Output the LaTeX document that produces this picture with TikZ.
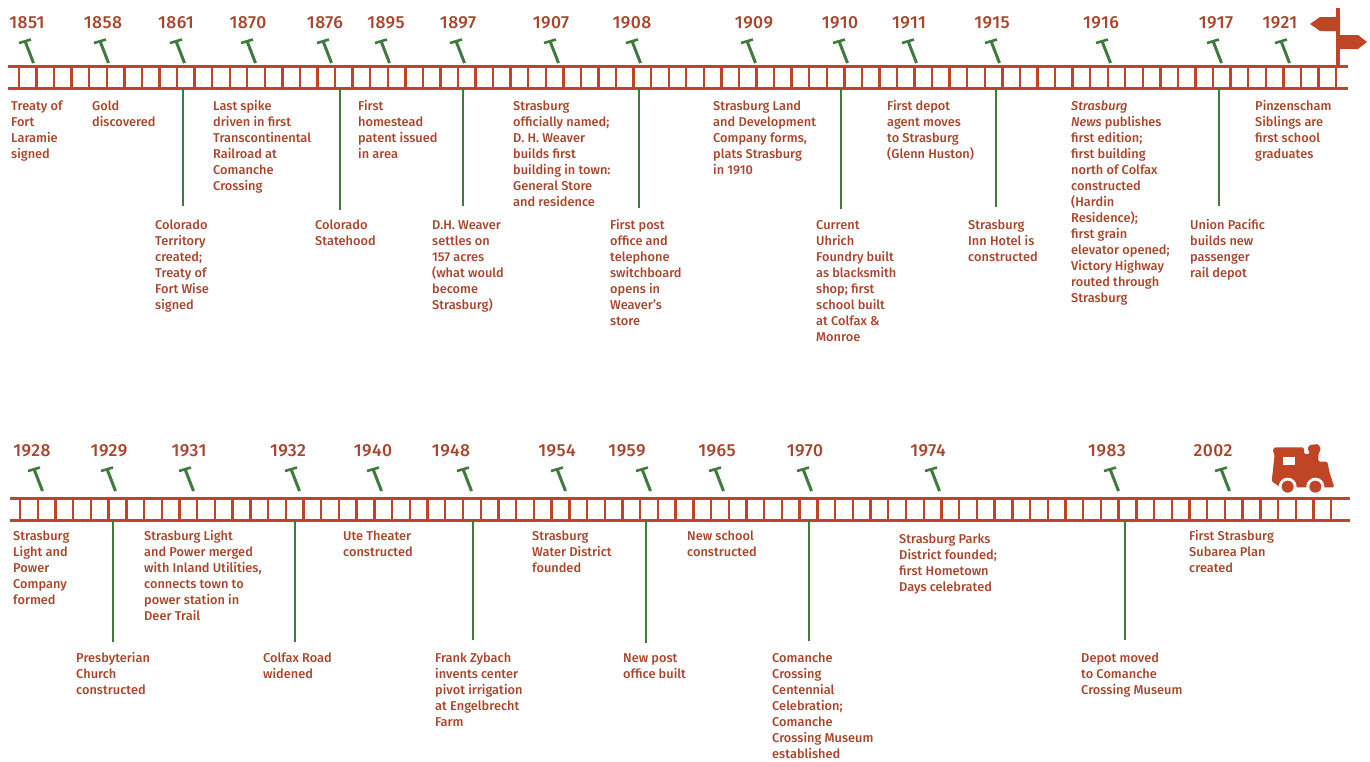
\documentclass[tikz,border=0pt]{standalone}
\usepackage{fontspec}
\setmainfont{Fira Sans Medium}[ItalicFont={Fira Sans Medium Italic}]
\newfontfamily\yearfont{Fira Sans Medium}[LetterSpace=2.5]
\definecolor{rail}{HTML}{BF4526}
\definecolor{txt}{HTML}{A8452C}
\definecolor{stem}{HTML}{3F7A3E}
\tikzset{
  railline/.style={draw=rail,line width=3pt},
  tie/.style={draw=rail,line width=2.4pt},
  nailshaft/.style={draw=stem,line width=3pt},
  nailhead/.style={draw=stem,line width=2.6pt},
  stemline/.style={draw=stem,line width=2pt},
  yearlabel/.style={text=txt,font=\yearfont\fontsize{17.5}{18}\selectfont,inner sep=0pt,anchor=center},
  event/.style={text=txt,font=\fontsize{12.8}{16}\selectfont,inner sep=0pt,anchor=north west,align=left},
}
\newcommand{\yr}[5]{% id, year, year x, head x, row (year y, head y, tip y)
  \node[yearlabel] (y#1) at (#3,#5+0.5) {#2};
  \coordinate (nh#1) at (#4,#5+19);
  \coordinate (nt#1) at (#4+8.5,#5+41);
  \draw[nailshaft] (nh#1) -- (nt#1);
  \draw[nailhead] ($(nh#1)+(-6,2)$) -- ($(nh#1)+(6,-1.5)$);
}
\newcommand{\ev}[4]{% id, x, line-centre y, text
  \node[event] (e#1) at (#2,#3-4.5) {\rule{0pt}{10pt}#4};
}
\newcommand{\st}[4]{% id, x, y1, y2
  \coordinate (sa#1) at (#2,#3);
  \coordinate (sb#1) at (#2,#4);
  \draw[stemline] (sa#1) -- (sb#1);
}
\usetikzlibrary{calc}
\begin{document}
\begin{tikzpicture}[x=1pt,y=-1pt]
\useasboundingbox (0,0) rectangle (1370,761);
% rails
\coordinate (ra) at (8,66); \coordinate (rb) at (1348,66);
\coordinate (rc) at (8,88); \coordinate (rd) at (1348,88);
\foreach \i in {0,...,75} \draw[tie] ({19+\i*17.56},66) -- ({19+\i*17.56},88);
\draw[railline] (ra) -- (rb);
\draw[railline] (rc) -- (rd);
\coordinate (rA) at (10,498); \coordinate (rB) at (1350,498);
\coordinate (rC) at (10,520); \coordinate (rD) at (1350,520);
\foreach \i in {0,...,74} \draw[tie] ({20+\i*17.72},498) -- ({20+\i*17.72},520);
\draw[railline] (rA) -- (rB);
\draw[railline] (rC) -- (rD);
% stems
\st{a}{183}{88}{206}\st{b}{340}{88}{210}\st{c}{463}{88}{206}\st{d}{639}{88}{208}
\st{e}{841}{88}{209}\st{f}{996}{88}{207}\st{g}{1219}{88}{206}
\st{h}{113}{520}{642}\st{i}{295}{520}{642}\st{j}{473}{520}{640}\st{k}{646}{520}{643}
\st{l}{809}{520}{641}\st{m}{1125}{520}{640}
% years top
\yr{a}{1851}{27}{25}{22}\yr{b}{1858}{103}{100}{22}\yr{c}{1861}{176}{176}{22}
\yr{d}{1870}{248}{247}{22}\yr{e}{1876}{325}{323}{22}\yr{f}{1895}{386}{381}{22}
\yr{g}{1897}{458}{456}{22}\yr{h}{1907}{551}{550}{22}\yr{i}{1908}{632}{632}{22}
\yr{j}{1909}{754}{747}{22}\yr{k}{1910}{840}{839}{22}\yr{l}{1911}{909}{908}{22}
\yr{m}{1915}{992}{991}{22}\yr{n}{1916}{1101}{1102}{22}\yr{o}{1917}{1216}{1213}{22}
\yr{p}{1921}{1280}{1281}{22}
% years bottom
\yr{q}{1928}{32}{34}{450}\yr{r}{1929}{109}{107}{450}\yr{s}{1931}{189}{185}{450}
\yr{t}{1932}{288}{291}{450}\yr{u}{1940}{373}{373}{450}\yr{v}{1948}{451}{463}{450}
\yr{w}{1954}{557}{557}{450}\yr{x}{1959}{627}{642}{450}\yr{y}{1965}{717}{715}{450}
\yr{z}{1970}{805}{803}{450}\yr{aa}{1974}{928}{931}{450}\yr{ab}{1983}{1107}{1110}{450}
\yr{ac}{2002}{1213}{1221}{450}
% events top
\ev{a}{11}{105}{Treaty of\\Fort\\Laramie\\signed}
\ev{b}{92}{105}{Gold\\discovered}
\ev{c}{155}{224}{Colorado\\Territory\\created;\\Treaty of\\Fort Wise\\signed}
\ev{d}{213}{105}{Last spike\\driven in first\\Transcontinental\\Railroad at\\Comanche\\Crossing}
\ev{e}{315}{224}{Colorado\\Statehood}
\ev{f}{358}{105}{First\\homestead\\patent issued\\in area}
\ev{g}{432}{224}{D.H. Weaver\\settles on\\157 acres\\(what would\\become\\Strasburg)}
\ev{h}{513}{105}{Strasburg\\officially named;\\D. H. Weaver\\builds first\\building in town:\\General Store\\and residence}
\ev{i}{610}{224}{First post\\office and\\telephone\\switchboard\\opens in\\Weaver’s\\store}
\ev{j}{713}{105}{Strasburg Land\\and Development\\Company forms,\\plats Strasburg\\in 1910}
\ev{k}{816}{224}{Current\\Uhrich\\Foundry built\\as blacksmith\\shop; first\\school built\\at Colfax \&\\Monroe}
\ev{l}{887}{105}{First depot\\agent moves\\to Strasburg\\(Glenn Huston)}
\ev{m}{968}{224}{Strasburg\\Inn Hotel is\\constructed}
\ev{n}{1071}{105}{\textit{Strasburg}\\\textit{News} publishes\\first edition;\\first building\\north of Colfax\\constructed\\(Hardin\\Residence);\\first grain\\elevator opened;\\Victory Highway\\routed through\\Strasburg}
\ev{o}{1190}{224}{Union Pacific\\builds new\\passenger\\rail depot}
\ev{p}{1255}{105}{Pinzenscham\\Siblings are\\first school\\graduates}
% events bottom
\ev{q}{13}{535}{Strasburg\\Light and\\Power\\Company\\formed}
\ev{r}{76}{657}{Presbyterian\\Church\\constructed}
\ev{s}{144}{535}{Strasburg Light\\and Power merged\\with Inland Utilities,\\connects town to\\power station in\\Deer Trail}
\ev{t}{263}{657}{Colfax Road\\widened}
\ev{u}{343}{535}{Ute Theater\\constructed}
\ev{v}{435}{657}{Frank Zybach\\invents center\\pivot irrigation\\at Engelbrecht\\Farm}
\ev{w}{532}{535}{Strasburg\\Water District\\founded}
\ev{x}{623}{657}{New post\\office built}
\ev{y}{687}{535}{New school\\constructed}
\ev{z}{772}{657}{Comanche\\Crossing\\Centennial\\Celebration;\\Comanche\\Crossing Museum\\established}
\ev{aa}{899}{538}{Strasburg Parks\\District founded;\\first Hometown\\Days celebrated}
\ev{ab}{1081}{657}{Depot moved\\to Comanche\\Crossing Museum}
\ev{ac}{1189}{535}{First Strasburg\\Subarea Plan\\created}
% signpost
\fill[rail] (1336,8) rectangle (1340,66);
\fill[rail] (1310,24) -- (1320,17) -- (1340,17) -- (1340,31) -- (1320,31) -- cycle;
\fill[rail] (1340,35) -- (1358,35) -- (1367,42) -- (1358,49) -- (1340,49) -- cycle;
% locomotive
\begin{scope}[shift={(1190,430)},x=0.3333pt,y=-0.3333pt]
\fill[rail,rounded corners=1.5pt] (248,66) -- (252,52) -- (342,52) -- (342,72) -- (358,72)
  -- (360,66) -- (352,58) -- (358,45) -- (385,42) -- (393,58) -- (385,72) -- (385,95)
  -- (412,95) -- (418,125) -- (433,172) -- (355,172) -- (310,172) -- (270,172)
  -- (255,160) -- (245,155) -- (254,72) -- cycle;
\fill[white] (278,82) rectangle (315,105);
\fill[white] (293,170) circle (27);
\fill[white] (376,170) circle (27);
\fill[rail] (293,170) circle (18);
\fill[rail] (376,170) circle (18);
\end{scope}
\end{tikzpicture}
\end{document}
